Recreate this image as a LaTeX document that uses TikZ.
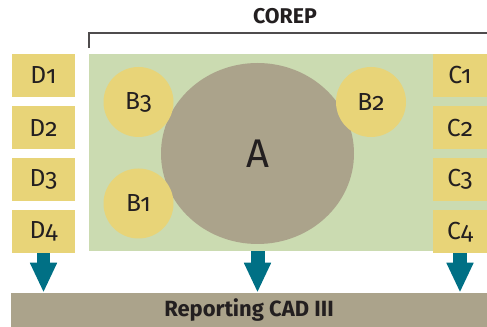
\documentclass[tikz,border=0pt]{standalone}
\usepackage{fontspec}
\setmainfont{Fira Sans}[Numbers=OldStyle]
\usetikzlibrary{arrows.meta, positioning, shapes.geometric}

\definecolor{corepgreen}{HTML}{CBDBB1}
\definecolor{tileyellow}{HTML}{E8D478}
\definecolor{coregrey}{HTML}{ABA38B}
\definecolor{flowteal}{HTML}{007085}
\definecolor{inkdark}{HTML}{231F20}

\tikzset{
    tile/.style={fill=tileyellow, inner sep=0pt, minimum height=32.25pt, text=inkdark, font=\fontsize{18.5}{18.5}\selectfont},
    bubble/.style={circle, fill=tileyellow, inner sep=0pt, minimum size=52.5pt, text=inkdark, font=\fontsize{18.5}{18.5}\selectfont},
    flow/.style={draw=flowteal, line width=10.5pt, -{Triangle[length=22.5pt, width=18.75pt]}}
}

\begin{document}
\begin{tikzpicture}[x=0.75pt, y=-0.75pt]
        \useasboundingbox (0,0) rectangle (487,327);

        % COREP area with bracket
        \node[fill=corepgreen, minimum width=298.5pt, minimum height=147.75pt, inner sep=0pt] (core) at (288,152.5) {};
        \node[text=inkdark, font=\fontsize{16}{16}\selectfont\bfseries] (corep) at (285,16) {COREP};
        \draw[line width=1.1pt, draw=inkdark!80] (89,48) -- (89,33) -- (487,33);

        % Central ellipse and small circles
        \node[ellipse, fill=coregrey, minimum width=144.75pt, minimum height=135.75pt, inner sep=0pt, text=inkdark, font=\fontsize{30}{30}\selectfont] (A) at (257.5,153.5) {A};
        \node[bubble] (B3) at (138.5,102) {B3};
        \node[bubble] (B2) at (371,102) {B2};
        \node[bubble] (B1) at (138.5,203.5) {B1};

        % D column (left)
        \node[tile, minimum width=47.25pt] (D1) at (43.5,75.5) {D1};
        \node[tile, minimum width=47.25pt, below=6.4pt of D1] (D2) {D2};
        \node[tile, minimum width=47.25pt, below=6.4pt of D2] (D3) {D3};
        \node[tile, minimum width=47.25pt, below=6.4pt of D3] (D4) {D4};

        % C column (right)
        \node[tile, minimum width=40.5pt] (C1) at (460,75.5) {C1};
        \node[tile, minimum width=40.5pt, below=6.4pt of C1] (C2) {C2};
        \node[tile, minimum width=40.5pt, below=6.4pt of C2] (C3) {C3};
        \node[tile, minimum width=40.5pt, below=6.4pt of C3] (C4) {C4};

        % Reporting bar
        \node[fill=coregrey, minimum width=357pt, minimum height=25.5pt, inner sep=0pt, text=inkdark, font=\fontsize{16.5}{16.5}\selectfont\bfseries] (bar) at (249,310) {Reporting CAD III};

        % Arrows down to the bar
        \draw[flow] (D4.south) -- (D4.south |- bar.north);
        \draw[flow] (A.south |- core.south) -- (A.south |- bar.north);
        \draw[flow] (C4.south) -- (C4.south |- bar.north);
\end{tikzpicture}
\end{document}
